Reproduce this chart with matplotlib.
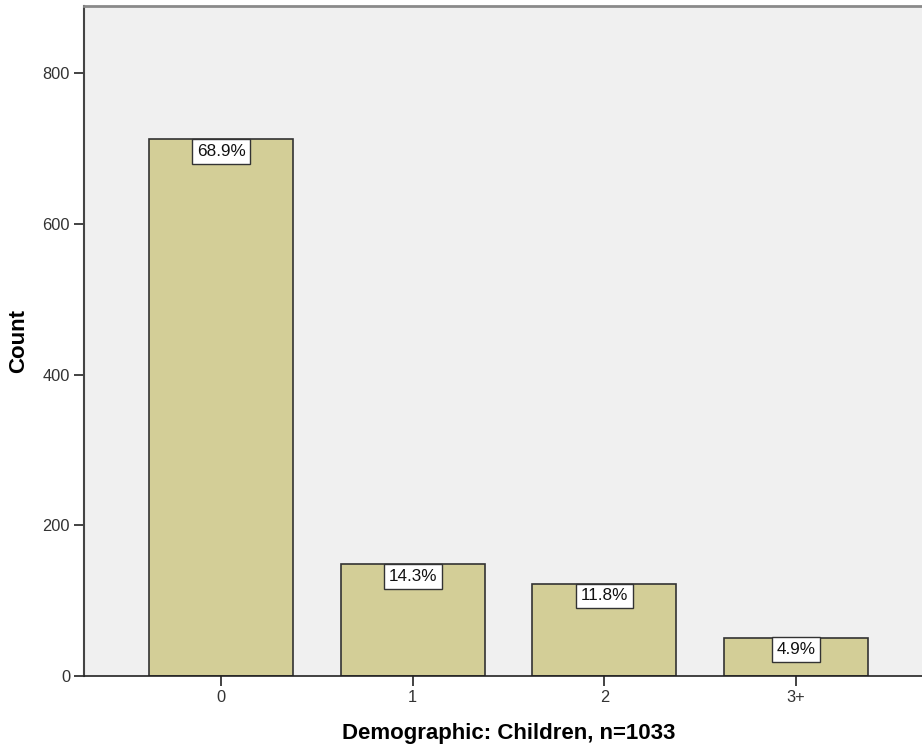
import matplotlib
matplotlib.use("Agg")
import matplotlib.pyplot as plt

categories = ["0", "1", "2", "3+"]
counts = [712, 148, 122, 51]
percent_labels = ["68.9%", "14.3%", "11.8%", "4.9%"]
y_ticks = [0, 200, 400, 600, 800]

plt.rcParams['font.family'] = ['Liberation Sans', 'DejaVu Sans']

fig = plt.figure(figsize=(9.22, 7.53), dpi=100)
ax = fig.add_axes([84/922, 77/753, (933-84)/922, (676-6)/753])
ax.set_facecolor('#f0f0f0')

x = list(range(len(categories)))
ax.bar(x, counts, width=0.75, color='#d3ce97', edgecolor='#333333', linewidth=1.2, zorder=2)

for xi, v, lab in zip(x, counts, percent_labels):
    ax.annotate(lab, xy=(xi, v), xytext=(0, -3.2), textcoords='offset points',
                ha='center', va='top', fontsize=12.3, color='#111111', zorder=4,
                bbox=dict(boxstyle='square,pad=0.28', fc='white', ec='#333333', lw=1.0))

ax.set_xlim(-0.715, 3.715)
ax.set_ylim(0, 889)
ax.set_xticks(x)
ax.set_xticklabels(categories)
ax.set_yticks(y_ticks)
ax.tick_params(axis='both', direction='out', length=7, width=1.2, colors='#222222',
               labelsize=11.8, labelcolor='#333333', pad=3)

ax.spines['right'].set_visible(False)
ax.spines['top'].set_color('#8a8a8a')
ax.spines['top'].set_linewidth(2)
ax.spines['left'].set_color('#444444')
ax.spines['left'].set_linewidth(1.5)
ax.spines['bottom'].set_color('#222222')
ax.spines['bottom'].set_linewidth(1.2)

ax.set_xlabel("Demographic: Children, n=1033", fontsize=16, fontweight='bold', labelpad=13)
ax.set_ylabel("Count", fontsize=16, fontweight='bold', labelpad=10)

fig.savefig("out.png", dpi=100)
